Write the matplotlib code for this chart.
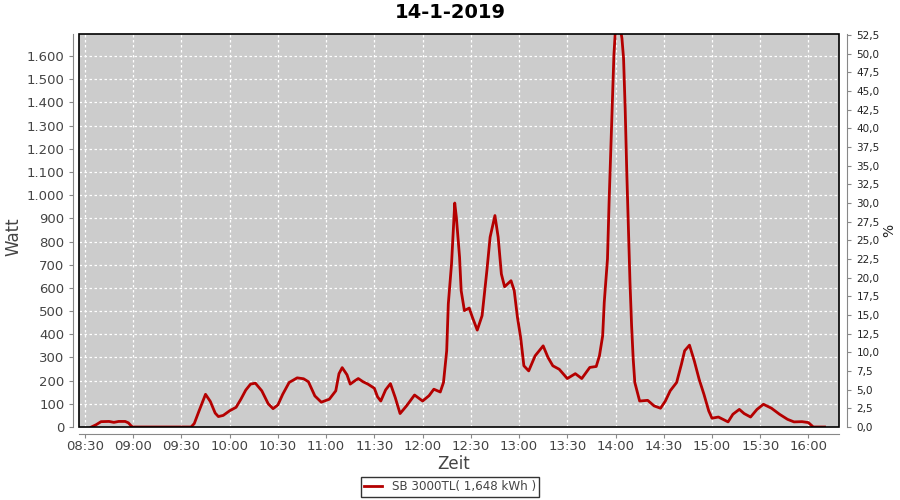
import matplotlib
matplotlib.use("Agg")
import matplotlib.pyplot as plt
from matplotlib.patches import Rectangle
from matplotlib.ticker import FuncFormatter, MultipleLocator

title = "14-1-2019"
series_name = "SB 3000TL( 1,648 kWh )"

# readings (time, Watt)
times = ["08:34", "08:37", "08:40", "08:45", "08:48", "08:51", "08:55", "08:57", "08:59", "09:00",
         "09:36", "09:38", "09:41", "09:45", "09:48", "09:51", "09:53", "09:56", "10:00", "10:04",
         "10:07", "10:10", "10:13", "10:16", "10:20", "10:24", "10:27", "10:30", "10:33", "10:37",
         "10:42", "10:46", "10:49", "10:53", "10:57", "11:02", "11:06", "11:08", "11:10", "11:13",
         "11:15", "11:18", "11:20", "11:23", "11:26", "11:30", "11:32", "11:34", "11:37", "11:40",
         "11:43", "11:46", "11:50", "11:55", "12:00", "12:04", "12:07", "12:11", "12:13", "12:15",
         "12:16", "12:18", "12:20", "12:21", "12:23", "12:24", "12:26", "12:29", "12:31", "12:34",
         "12:37", "12:40", "12:42", "12:45", "12:47", "12:49", "12:51", "12:55", "12:57", "12:59",
         "13:01", "13:03", "13:06", "13:10", "13:15", "13:18", "13:21", "13:25", "13:30", "13:35",
         "13:39", "13:44", "13:48", "13:50", "13:52", "13:53", "13:55", "13:56", "13:57", "13:58",
         "13:59", "14:00", "14:03", "14:04", "14:05", "14:06", "14:07", "14:08", "14:09", "14:10",
         "14:11", "14:12", "14:15", "14:20", "14:24", "14:28", "14:31", "14:34", "14:38", "14:41",
         "14:43", "14:46", "14:49", "14:52", "14:55", "14:58", "15:00", "15:04", "15:10", "15:13",
         "15:17", "15:20", "15:24", "15:28", "15:32", "15:37", "15:42", "15:47", "15:51", "15:56",
         "16:00", "16:03", "16:10"]
watt = [0, 10, 23, 24, 20, 24, 24, 18, 3, 0,
        0, 15, 70, 141, 110, 60, 45, 50, 70, 85,
        120, 159, 185, 189, 156, 100, 79, 95, 141, 192,
        212, 208, 195, 134, 107, 120, 156, 230, 256, 225,
        185, 200, 209, 195, 185, 167, 130, 112, 160, 187,
        127, 58, 91, 138, 112, 135, 163, 151, 192, 329,
        531, 703, 966, 905, 732, 588, 502, 513, 473, 418,
        480, 675, 819, 912, 819, 660, 605, 631, 588, 473,
        386, 264, 242, 307, 350, 300, 264, 249, 209, 230,
        209, 257, 261, 307, 393, 538, 725, 970, 1186, 1388,
        1604, 1720, 1720, 1676, 1590, 1374, 1100, 869, 624, 437,
        293, 192, 112, 115, 91, 81, 112, 156, 192, 271,
        329, 353, 285, 206, 141, 69, 38, 43, 22, 55,
        76, 58, 43, 76, 98, 81, 55, 33, 22, 23,
        19, 0, 0]

xtick_labels = ["08:30", "09:00", "09:30", "10:00", "10:30", "11:00", "11:30", "12:00",
                "12:30", "13:00", "13:30", "14:00", "14:30", "15:00", "15:30", "16:00"]


def to_min(s):
    h, m = s.split(":")
    return int(h) * 60 + int(m)


x = [to_min(t) for t in times]
xticks = [to_min(t) for t in xtick_labels]

txt = "#444444"
axc = "#888888"

fig = plt.figure(figsize=(9, 5), dpi=100)
ax = fig.add_axes([79 / 900, 1 - 427 / 500, 760 / 900, 393 / 500])
ax.set_facecolor("#cccccc")
ax.plot(x, watt, color="#b40000", lw=2, label=series_name)

ax.set_xlim(to_min("08:26") + 0.3, to_min("16:19"))
ax.set_ylim(0, 1695)
ax.set_xticks(xticks)
ax.set_xticklabels(xtick_labels)
ax.yaxis.set_major_locator(MultipleLocator(100))
ax.yaxis.set_major_formatter(FuncFormatter(lambda v, p: f"{int(v):,}".replace(",", ".")))
ax.grid(True, color="white", ls=(0, (2, 2)), lw=0.9)
ax.set_axisbelow(True)

for s in ["top", "right"]:
    ax.spines[s].set_visible(False)
ax.spines["left"].set_position(("outward", 4))
ax.spines["bottom"].set_position(("outward", 5))
for s in ["left", "bottom"]:
    ax.spines[s].set_color(axc)
ax.tick_params(axis="both", colors=axc, labelcolor=txt, labelsize=9.5, length=3, width=0.8)
ax.tick_params(axis="x", pad=1.5)

# black plot-area frame
ax.add_patch(Rectangle((0, 0), 1, 1, transform=ax.transAxes, fill=False,
                       ec="black", lw=1.2, clip_on=False, zorder=5))

ax.set_xlabel("Zeit", fontsize=12, color=txt)
ax.set_ylabel("Watt", fontsize=12, color=txt)
ax.xaxis.set_label_coords(0.493, -0.07)
ax.yaxis.set_label_coords(-0.075, 0.485)

ax2 = ax.twinx()
ax2.set_ylim(0, 52.63)
ax2.yaxis.set_major_locator(MultipleLocator(2.5))
ax2.yaxis.set_major_formatter(FuncFormatter(lambda v, p: f"{v:.1f}".replace(".", ",")))
for s in ["top", "left", "bottom"]:
    ax2.spines[s].set_visible(False)
ax2.spines["right"].set_position(("outward", 6))
ax2.spines["right"].set_color(axc)
ax2.tick_params(axis="y", colors=axc, labelcolor="#222222", labelsize=7.5, length=3, width=0.8)
ax2.set_ylabel("%", fontsize=10, color="#222222")
ax2.yaxis.set_label_coords(1.057, 0.5)

fig.text(0.5, 1 - 13 / 500, title, fontsize=14, fontweight="bold", ha="center", va="center")

leg = fig.legend(loc="lower center", bbox_to_anchor=(0.5, 0.006), fontsize=8.6,
                 frameon=True, fancybox=False, edgecolor="black", handlelength=1.5,
                 borderpad=0.3, borderaxespad=0.0, labelcolor=txt)
leg.get_frame().set_linewidth(1.0)

fig.savefig("out.png", dpi=100, facecolor="white")
